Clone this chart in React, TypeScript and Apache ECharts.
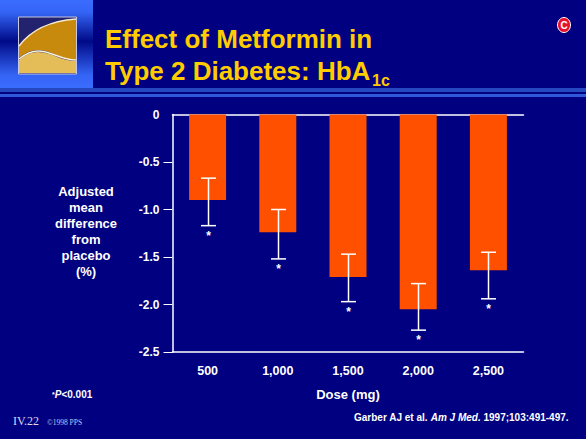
import React, { useEffect, useRef } from "react";
import * as echarts from "echarts";

const doses = ["500", "1,000", "1,500", "2,000", "2,500"];
const meanDiff = [-0.9, -1.24, -1.71, -2.05, -1.64];
const errorUpper = [-0.67, -1.0, -1.47, -1.78, -1.45];
const errorLower = [-1.17, -1.52, -1.97, -2.27, -1.94];
const yTickValues = [-0.5, -1, -1.5, -2, -2.5];
const yTitleLines = ["Adjusted", "mean", "difference", "from", "placebo", "(%)"];

const SANS = '"Liberation Sans", Arial, sans-serif';
const SERIF = '"Liberation Serif", "Times New Roman", serif';
const NAVY = "#000080";

const reg = (name: string, d: string) =>
  echarts.graphic.registerShape(name, echarts.graphic.extendPath(d, {}) as any);
reg("logoGold", "M19 46C32 29 50 21 76 19L76 60C60 60 52 50 38 50C30 50 24 54 19 58Z");
reg("logoSand", "M19 60C24 56 30 52 38 52C52 52 60 61 76 61L76 73L19 73Z");
reg("logoTopCurve", "M19 46C32 29 50 21 76 19");
reg("logoMidCurve", "M19 59C24 55 30 51 38 51C52 51 60 60 76 60");

export default function App() {
  const ref = useRef<HTMLDivElement>(null);
  useEffect(() => {
    document.body.style.margin = "0";
    document.body.style.background = NAVY;
    const chart = echarts.init(ref.current!, null, { renderer: "svg" });
    const txt = (text: string, x: number, y: number, font: any) => ({
      type: "text",
      x,
      y,
      silent: true,
      style: { text, fill: "#fff", fontFamily: SANS, fontWeight: "bold", fontSize: 11, verticalAlign: "middle", ...font },
    });
    chart.setOption({
      animation: false,
      backgroundColor: NAVY,
      grid: { left: 172.5, top: 114.5, width: 351, height: 237.5, containLabel: false },
      xAxis: [
        {
          type: "category",
          data: doses,
          position: "bottom",
          axisLine: { onZero: false, lineStyle: { color: "#fff", width: 1.5 } },
          axisTick: { alignWithLabel: true, length: 7, lineStyle: { color: "#fff", width: 1 } },
          axisLabel: { color: "#fff", fontFamily: SANS, fontWeight: "bold", fontSize: 12.5, margin: 12 },
          name: "Dose (mg)",
          nameLocation: "middle",
          nameGap: 36,
          nameTextStyle: { color: "#fff", fontFamily: SANS, fontWeight: "bold", fontSize: 13 },
        },
        {
          type: "category",
          data: doses,
          position: "top",
          axisLine: { onZero: false, lineStyle: { color: "#fff", width: 1.5 } },
          axisTick: { show: false },
          axisLabel: { show: false },
        },
      ],
      yAxis: {
        type: "value",
        min: -2.5,
        max: 0,
        interval: 0.5,
        splitLine: { show: false },
        axisLine: { show: true, lineStyle: { color: "#fff", width: 1.5 } },
        axisTick: { show: true, length: 9, lineStyle: { color: "#fff", width: 1 }, customValues: yTickValues },
        axisLabel: {
          color: "#fff",
          fontFamily: SANS,
          fontWeight: "bold",
          fontSize: 12,
          margin: 13,
          formatter: (v: number) => (v === 0 ? "0" : v.toFixed(1)),
        },
      },
      series: [
        {
          type: "bar",
          data: meanDiff,
          barWidth: 37,
          itemStyle: { color: "#ff5000" },
          silent: true,
        },
        {
          type: "custom",
          silent: true,
          z: 5,
          data: doses.map((_, i) => [i, errorUpper[i], errorLower[i]]),
          renderItem(_: any, api: any) {
            const top = api.coord([api.value(0), api.value(1)]);
            const bot = api.coord([api.value(0), api.value(2)]);
            const cx = Math.round(top[0]) + 0.5;
            const s = { stroke: "#fff", lineWidth: 1.5 };
            return {
              type: "group",
              children: [
                { type: "line", shape: { x1: cx, y1: top[1], x2: cx, y2: bot[1] }, style: s },
                { type: "line", shape: { x1: cx - 7.5, y1: top[1], x2: cx + 7.5, y2: top[1] }, style: s },
                { type: "line", shape: { x1: cx - 7.5, y1: bot[1], x2: cx + 7.5, y2: bot[1] }, style: s },
                {
                  type: "text",
                  x: cx,
                  y: bot[1] + 10,
                  style: {
                    text: "*",
                    fill: "#fff",
                    fontFamily: SANS,
                    fontWeight: "bold",
                    fontSize: 12,
                    align: "center",
                    verticalAlign: "middle",
                  },
                },
              ],
            };
          },
        },
      ],
      graphic: [
        {
          type: "rect",
          silent: true,
          shape: { x: 0, y: 0, width: 93, height: 88 },
          style: {
            fill: new echarts.graphic.LinearGradient(0, 0, 0, 1, [
              { offset: 0, color: "#3a6cff" },
              { offset: 0.14, color: "#3464f4" },
              { offset: 0.47, color: "#000a88" },
              { offset: 0.85, color: "#3464f4" },
              { offset: 1, color: "#3a6cff" },
            ]),
          },
        },
        { type: "rect", silent: true, shape: { x: 0, y: 88, width: 586, height: 4 }, style: { fill: "#2448c0" } },
        { type: "rect", silent: true, shape: { x: 0, y: 94, width: 586, height: 3 }, style: { fill: "#3058d8" } },
        { type: "rect", silent: true, shape: { x: 18.5, y: 17, width: 58, height: 57 }, style: { fill: "#22226e", stroke: "#c8c8e0", lineWidth: 1 } },
        { type: "logoGold", silent: true, style: { fill: "#c88a0c" } },
        { type: "logoSand", silent: true, style: { fill: "#e4bc58" } },
        { type: "logoTopCurve", silent: true, style: { fill: "none", stroke: "#f4ecd0", lineWidth: 1.5 } },
        { type: "logoMidCurve", silent: true, style: { fill: "none", stroke: "#f8f0d8", lineWidth: 1.5 } },
        txt("Effect of Metformin in", 105, 39, { fill: "#ffcc00", fontSize: 26 }),
        txt("Type 2 Diabetes: HbA", 105, 71, { fill: "#ffcc00", fontSize: 26 }),
        txt("1c", 372, 80, { fill: "#ffcc00", fontSize: 16 }),
        { type: "ellipse", silent: true, shape: { cx: 564, cy: 25, rx: 6.5, ry: 7.5 }, style: { fill: "#e8102c", stroke: "#fff", lineWidth: 1 } },
        txt("C", 564, 25, { fontSize: 10, align: "center" }),
        ...yTitleLines.map((line, i) =>
          txt(line, 86, 191 + i * 16, { fontSize: 13, align: "center" })
        ),
        {
          type: "text",
          x: 52,
          y: 394,
          silent: true,
          style: {
            text: "{s|*}{i|P}{b|<0.001}",
            verticalAlign: "middle",
            rich: {
              s: { fill: "#fff", fontFamily: SANS, fontSize: 7, fontWeight: "bold" },
              i: { fill: "#fff", fontFamily: SANS, fontSize: 10, fontWeight: "bold", fontStyle: "italic" },
              b: { fill: "#fff", fontFamily: SANS, fontSize: 10, fontWeight: "bold" },
            },
          },
        },
        txt("IV.22", 13, 421, { fontFamily: SERIF, fontWeight: "normal", fontSize: 12, fill: "#d8d8f0" }),
        txt("©1998 PPS", 47, 422, { fontFamily: SERIF, fontWeight: "normal", fontSize: 7.5, fill: "#c8c8e8" }),
        {
          type: "text",
          x: 354,
          y: 417,
          silent: true,
          style: {
            text: "{b|Garber AJ et al. }{i|Am J Med.}{b| 1997;103:491-497.}",
            verticalAlign: "middle",
            rich: {
              b: { fill: "#fff", fontFamily: SANS, fontSize: 10, fontWeight: "bold" },
              i: { fill: "#fff", fontFamily: SANS, fontSize: 10, fontWeight: "bold", fontStyle: "italic" },
            },
          },
        },
      ],
    });
    return () => chart.dispose();
  }, []);
  return <div ref={ref} style={{ width: 586, height: 439 }} />;
}
